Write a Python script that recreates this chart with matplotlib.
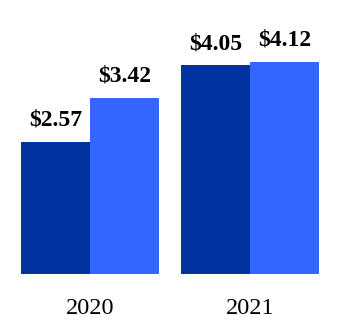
import matplotlib
matplotlib.use("Agg")
import matplotlib.pyplot as plt
import numpy as np

years = ["2020", "2021"]
first_vals = [2.57, 4.05]
second_vals = [3.42, 4.12]
dark = "#0033A0"
light = "#3366FF"

plt.rcParams['font.family'] = ['Liberation Serif', 'DejaVu Serif']

fig = plt.figure(figsize=(3.4, 3.3), dpi=100)
ax = fig.add_axes([0, 56 / 330, 1, 254 / 330])

x = np.arange(len(years))
w = 0.431
b1 = ax.bar(x - w / 2, first_vals, w, color=dark)
b2 = ax.bar(x + w / 2, second_vals, w, color=light)

for bars in (b1, b2):
    for rect in bars:
        h = rect.get_height()
        ax.annotate("$%.2f" % h, (rect.get_x() + rect.get_width() / 2, h),
                    xytext=(0, 8), textcoords="offset points",
                    ha="center", va="bottom", fontsize=17, fontweight="bold")

ax.set_xlim(-0.5625, 1.5625)
ax.set_ylim(0, 4.93)
ax.set_xticks(x)
ax.set_xticklabels(years, fontsize=17.5)
ax.tick_params(axis="x", length=0, pad=17)
ax.set_yticks([])
for s in ax.spines.values():
    s.set_visible(False)

fig.savefig("out.png", dpi=100)
